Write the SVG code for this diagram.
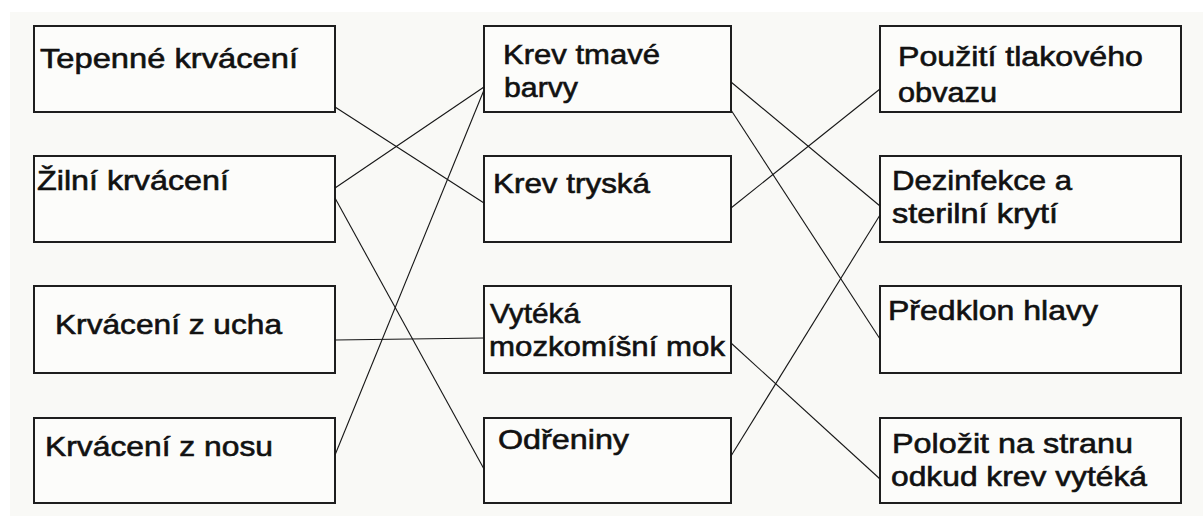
<svg xmlns="http://www.w3.org/2000/svg" width="1203" height="516" viewBox="0 0 1203 516">
<style>
.box{fill:#fcfcfa;stroke:#1e1e1e;stroke-width:2}
.t{font-family:"Liberation Sans",Arial,sans-serif;font-size:28px;fill:#111;stroke:#111;stroke-width:0.6}
.c line{stroke:#161616;stroke-width:1.1;fill:none}
</style>
<rect x="0" y="0" width="1203" height="516" fill="#ffffff"/>
<rect x="10" y="12" width="1193" height="504" fill="#f9f9f6"/>
<g id="left1"><rect class="box" x="34" y="26" width="301" height="86"/><text class="t" x="40" y="68" textLength="258" lengthAdjust="spacingAndGlyphs">Tepenné krvácení</text></g>
<g id="left2"><rect class="box" x="34" y="156" width="301" height="86"/><text class="t" x="37" y="190" textLength="192" lengthAdjust="spacingAndGlyphs">Žilní krvácení</text></g>
<g id="left3"><rect class="box" x="34" y="286" width="301" height="87"/><text class="t" x="55" y="334" textLength="227" lengthAdjust="spacingAndGlyphs">Krvácení z ucha</text></g>
<g id="left4"><rect class="box" x="34" y="418" width="301" height="85"/><text class="t" x="45" y="456" textLength="228" lengthAdjust="spacingAndGlyphs">Krvácení z nosu</text></g>
<g id="mid1"><rect class="box" x="484" y="26" width="247" height="86"/><text class="t" x="503" y="64" textLength="157" lengthAdjust="spacingAndGlyphs">Krev tmavé</text><text class="t" x="504" y="97" textLength="74" lengthAdjust="spacingAndGlyphs">barvy</text></g>
<g id="mid2"><rect class="box" x="484" y="156" width="247" height="86"/><text class="t" x="493" y="193" textLength="157" lengthAdjust="spacingAndGlyphs">Krev tryská</text></g>
<g id="mid3"><rect class="box" x="484" y="286" width="247" height="87"/><text class="t" x="490" y="323" textLength="90" lengthAdjust="spacingAndGlyphs">Vytéká</text><text class="t" x="489" y="356" textLength="236" lengthAdjust="spacingAndGlyphs">mozkomíšní mok</text></g>
<g id="mid4"><rect class="box" x="484" y="418" width="247" height="85"/><text class="t" x="498" y="449" textLength="131" lengthAdjust="spacingAndGlyphs">Odřeniny</text></g>
<g id="right1"><rect class="box" x="880" y="26" width="301" height="86"/><text class="t" x="898" y="66" textLength="245" lengthAdjust="spacingAndGlyphs">Použití tlakového</text><text class="t" x="898" y="102" textLength="99" lengthAdjust="spacingAndGlyphs">obvazu</text></g>
<g id="right2"><rect class="box" x="880" y="156" width="301" height="86"/><text class="t" x="892" y="190" textLength="180" lengthAdjust="spacingAndGlyphs">Dezinfekce a</text><text class="t" x="892" y="223" textLength="166" lengthAdjust="spacingAndGlyphs">sterilní krytí</text></g>
<g id="right3"><rect class="box" x="880" y="286" width="301" height="87"/><text class="t" x="888" y="320" textLength="210" lengthAdjust="spacingAndGlyphs">Předklon hlavy</text></g>
<g id="right4"><rect class="box" x="880" y="418" width="301" height="85"/><text class="t" x="892" y="453" textLength="241" lengthAdjust="spacingAndGlyphs">Položit na stranu</text><text class="t" x="891" y="486" textLength="256" lengthAdjust="spacingAndGlyphs">odkud krev vytéká</text></g>
<g id="connectors" class="c">
<line x1="335" y1="107" x2="484" y2="203"/>
<line x1="335" y1="188" x2="484" y2="87"/>
<line x1="335" y1="198" x2="484" y2="469"/>
<line x1="335" y1="340" x2="484" y2="338"/>
<line x1="335" y1="455" x2="484" y2="90"/>
<line x1="731" y1="82" x2="880" y2="206"/>
<line x1="731" y1="110" x2="880" y2="339"/>
<line x1="731" y1="208" x2="880" y2="89"/>
<line x1="731" y1="343" x2="880" y2="479"/>
<line x1="731" y1="456" x2="880" y2="215"/>
</g>
</svg>
